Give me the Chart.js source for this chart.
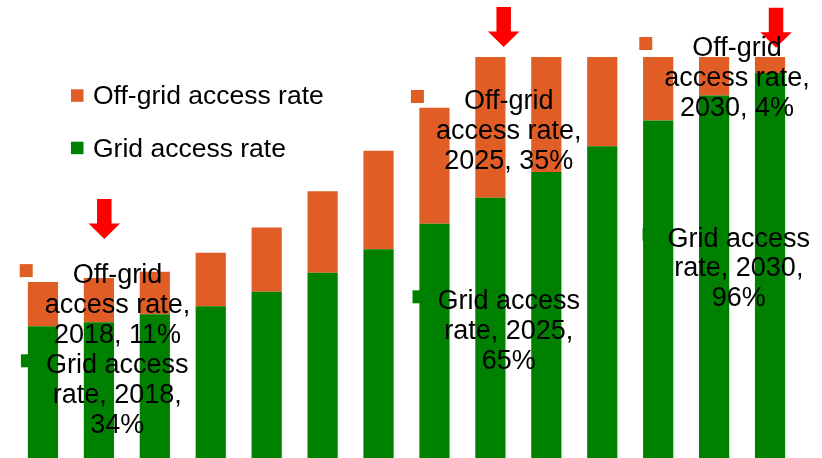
<!DOCTYPE html>
<html>
<head>
<meta charset="utf-8">
<script src="https://cdn.jsdelivr.net/npm/chart.js@4.4.1/dist/chart.umd.min.js"></script>
<style>
  html, body { margin: 0; padding: 0; background: #fff; overflow: hidden; }
  canvas { display: block; }
</style>
</head>
<body>
<canvas id="access" width="822" height="459"></canvas>
<script>
const years = ['2017', '2018', '2019', '2020', '2021', '2022', '2023',
  '2024', '2025', '2026', '2027', '2028', '2029', '2030'];
const gridRate = [33, 34, 36, 38, 41.6, 46.3, 52.2, 58.5, 65, 71.4, 77.8, 84.2, 90.4, 96];
const offGridRate = [11, 11, 10.6, 13.3, 16, 20.3, 24.5, 28.9, 35, 28.6, 22.2, 15.8, 9.6, 4];
const highlightYears = ['2018', '2025', '2030'];

const GREEN = '#008000';
const ORANGE = '#E05E26';
const FONT = '"Liberation Sans", Arial, sans-serif';

// where each callout / arrow sits relative to its bar segment (pixels)
const calloutPlacement = [
  { series: 1, year: '2018', dx: 18.6, dy: 5 },
  { series: 0, year: '2018', dx: 18.3, dy: 51 },
  { series: 1, year: '2025', dx: 18.3, dy: 52 },
  { series: 0, year: '2025', dx: 18.4, dy: 111.6 },
  { series: 1, year: '2030', dx: -33, dy: -1 },
  { series: 0, year: '2030', dx: -31.2, dy: 173.6 },
];
const arrowPlacement = { '2018': { dx: 5.4, gap: 39 }, '2025': { dx: 13.3, gap: 10 }, '2030': { dx: 6, gap: 9.3 } };

function wrap(ctx, text, maxWidth) {
  const words = text.split(' ');
  const lines = [];
  let line = '';
  words.forEach((w) => {
    const test = line ? line + ' ' + w : w;
    if (line && ctx.measureText(test).width > maxWidth) {
      lines.push(line);
      line = w;
    } else {
      line = test;
    }
  });
  lines.push(line);
  return lines;
}

function drawArrow(ctx, x, tipY) {
  const shaftW = 14.5, headW = 31.5, headH = 15.5, total = 40;
  ctx.beginPath();
  ctx.moveTo(x - shaftW / 2, tipY - total);
  ctx.lineTo(x + shaftW / 2, tipY - total);
  ctx.lineTo(x + shaftW / 2, tipY - headH);
  ctx.lineTo(x + headW / 2, tipY - headH);
  ctx.lineTo(x, tipY);
  ctx.lineTo(x - headW / 2, tipY - headH);
  ctx.lineTo(x - shaftW / 2, tipY - headH);
  ctx.closePath();
  ctx.fill();
}

const annotations = {
  id: 'annotations',
  afterDatasetsDraw(chart) {
    const ctx = chart.ctx;
    const datasets = chart.data.datasets;
    ctx.save();

    // red arrows above the highlighted years
    ctx.fillStyle = '#FF0000';
    highlightYears.forEach((y) => {
      const bar = chart.getDatasetMeta(1).data[years.indexOf(y)];
      const p = arrowPlacement[y];
      drawArrow(ctx, bar.x + p.dx, bar.y - p.gap);
    });

    // legend, top series first
    ctx.font = '26.5px ' + FONT;
    ctx.textAlign = 'left';
    ctx.textBaseline = 'alphabetic';
    [1, 0].forEach((s, k) => {
      const y = 104.3 + k * 52.4;
      ctx.fillStyle = datasets[s].backgroundColor;
      ctx.fillRect(71, y - 15, 12.5, 12.5);
      ctx.fillStyle = '#000';
      ctx.fillText(datasets[s].label, 93, y);
    });

    // data callouts: series name, year, value
    ctx.font = '27px ' + FONT;
    ctx.textAlign = 'center';
    calloutPlacement.forEach((c) => {
      const ds = datasets[c.series];
      const i = years.indexOf(c.year);
      const bar = chart.getDatasetMeta(c.series).data[i];
      const lines = wrap(ctx, `${ds.label}, ${c.year}, ${ds.data[i]}%`, 152);
      const cx = bar.x + c.dx;
      const y0 = bar.y + c.dy;
      const widest = Math.max(...lines.map((l) => ctx.measureText(l).width));
      ctx.fillStyle = ds.backgroundColor;
      ctx.fillRect(cx - widest / 2 - 25, y0 - 19, 13, 13);
      ctx.fillStyle = '#000';
      lines.forEach((l, k) => ctx.fillText(l, cx, y0 + k * 29.8));
    });
    ctx.restore();
  },
};

new Chart(document.getElementById('access'), {
  type: 'bar',
  data: {
    labels: years,
    datasets: [
      {
        label: 'Grid access rate',
        data: gridRate,
        backgroundColor: GREEN,
        borderWidth: 0,
      },
      {
        label: 'Off-grid access rate',
        data: offGridRate,
        backgroundColor: ORANGE,
        borderWidth: 0,
      },
    ],
  },
  options: {
    responsive: false,
    animation: false,
    devicePixelRatio: 1,
    layout: { padding: { left: 15, right: 24, top: 57, bottom: 0 } },
    datasets: {
      bar: { barPercentage: 0.54, categoryPercentage: 1 },
    },
    scales: {
      x: { stacked: true, display: false },
      y: { stacked: true, display: false, min: 0, max: 100 },
    },
    plugins: {
      legend: { display: false },
      tooltip: { enabled: false },
    },
  },
  plugins: [annotations],
});
</script>
</body>
</html>
